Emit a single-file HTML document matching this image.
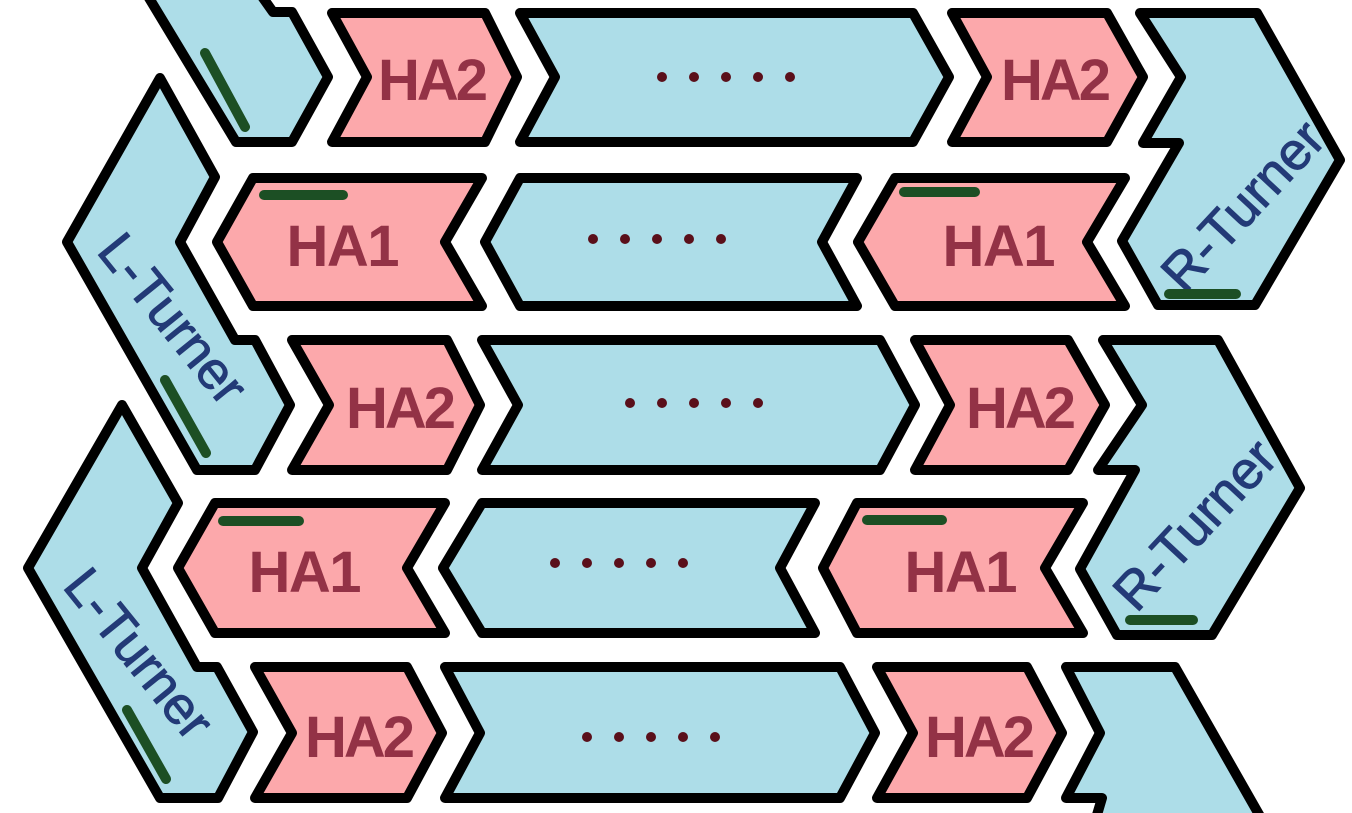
<!DOCTYPE html>
<html><head><meta charset="utf-8"><style>
html,body{margin:0;padding:0;background:#fff;width:1352px;height:813px;overflow:hidden}
svg{display:block}
.b{fill:#ADDDE8;stroke:#000;stroke-width:10;stroke-linejoin:round}
.p{fill:#FCA8AB;stroke:#000;stroke-width:10;stroke-linejoin:round}
.ha{font-family:"Liberation Sans",sans-serif;font-weight:bold;font-size:58px;fill:#933246;text-anchor:middle}
.tu{font-family:"Liberation Sans",sans-serif;font-size:53px;fill:#233A77;stroke:#233A77;stroke-width:1;text-anchor:middle}
.g{stroke:#1C4F24;stroke-width:10;stroke-linecap:round}
.d{fill:#5A0F1A}
</style></head><body>
<svg width="1352" height="813" viewBox="0 0 1352 813">
<!-- Row 1 -->
<polygon class="b" points="143,-12 256,-12 273,12 292,12 328,77 292,142 236,142"/>
<polygon class="p" points="332,13 485,13 517,77 485,142 332,142 367,77"/>
<text class="ha" x="433" y="100" textLength="110">HA2</text>
<polygon class="b" points="520,13 913,13 949,77 913,142 520,142 555,77"/>
<polygon class="p" points="952,13 1107,13 1143,77 1107,142 952,142 987,77"/>
<text class="ha" x="1056" y="100" textLength="110">HA2</text>
<polygon class="b" points="1140,13 1257,13 1340,160 1255,305 1158,305 1122,241 1179,143 1143,143 1181,77"/>
<text class="tu" transform="translate(1256,218) rotate(-47)">R-Turner</text>
<!-- Row 2 -->
<polygon class="b" points="160,78 215,177 180,242 235,340 255,340 290,405 255,470 197,470 67,242"/>
<text class="tu" transform="translate(159,330) rotate(51)">L-Turner</text>
<polygon class="p" points="253,178 482,178 445,242 482,306 253,306 217,242"/>
<text class="ha" x="343" y="266" textLength="113">HA1</text>
<polygon class="b" points="520,178 857,178 822,242 857,306 520,306 485,242"/>
<polygon class="p" points="895,178 1125,178 1087,242 1125,306 895,306 858,242"/>
<text class="ha" x="999" y="266" textLength="113">HA1</text>
<!-- Row 3 -->
<polygon class="p" points="292,340 447,340 480,405 447,470 292,470 329,405"/>
<text class="ha" x="401" y="428" textLength="110">HA2</text>
<polygon class="b" points="482,340 880,340 915,405 880,470 482,470 518,405"/>
<polygon class="p" points="915,340 1068,340 1105,405 1068,470 915,470 950,405"/>
<text class="ha" x="1021" y="428" textLength="110">HA2</text>
<polygon class="b" points="1103,340 1218,340 1300,488 1212,635 1117,635 1080,569 1135,470 1098,470 1142,405"/>
<text class="tu" transform="translate(1208,537) rotate(-47)">R-Turner</text>
<!-- Row 4 -->
<polygon class="b" points="122,405 178,503 142,568 197,667 217,667 253,732 218,798 160,798 28,568"/>
<text class="tu" transform="translate(125,665) rotate(51)">L-Turner</text>
<polygon class="p" points="215,503 445,503 407,568 445,633 215,633 178,568"/>
<text class="ha" x="305" y="592" textLength="113">HA1</text>
<polygon class="b" points="482,503 815,503 780,568 815,633 482,633 443,568"/>
<polygon class="p" points="857,503 1083,503 1045,568 1083,633 857,633 823,568"/>
<text class="ha" x="961" y="592" textLength="113">HA1</text>
<!-- Row 5 -->
<polygon class="p" points="255,667 407,667 442,733 407,798 255,798 292,733"/>
<text class="ha" x="360" y="757" textLength="110">HA2</text>
<polygon class="b" points="445,667 840,667 875,733 840,798 445,798 480,733"/>
<polygon class="p" points="877,667 1027,667 1062,733 1027,798 877,798 913,733"/>
<text class="ha" x="980" y="757" textLength="110">HA2</text>
<polygon class="b" points="1066,667 1175,667 1265,825 1094,825 1102,798 1066,798 1100,733"/>
<!-- dots -->
<g><circle class="d" cx="662" cy="77" r="5"/><circle class="d" cx="694" cy="77" r="5"/><circle class="d" cx="726" cy="77" r="5"/><circle class="d" cx="758" cy="77" r="5"/><circle class="d" cx="790" cy="77" r="5"/></g>
<g><circle class="d" cx="593" cy="239" r="5"/><circle class="d" cx="625" cy="239" r="5"/><circle class="d" cx="657" cy="239" r="5"/><circle class="d" cx="689" cy="239" r="5"/><circle class="d" cx="721" cy="239" r="5"/></g>
<g><circle class="d" cx="630" cy="403" r="5"/><circle class="d" cx="662" cy="403" r="5"/><circle class="d" cx="694" cy="403" r="5"/><circle class="d" cx="726" cy="403" r="5"/><circle class="d" cx="758" cy="403" r="5"/></g>
<g><circle class="d" cx="555" cy="563" r="5"/><circle class="d" cx="587" cy="563" r="5"/><circle class="d" cx="619" cy="563" r="5"/><circle class="d" cx="651" cy="563" r="5"/><circle class="d" cx="683" cy="563" r="5"/></g>
<g><circle class="d" cx="587" cy="737" r="5"/><circle class="d" cx="619" cy="737" r="5"/><circle class="d" cx="651" cy="737" r="5"/><circle class="d" cx="683" cy="737" r="5"/><circle class="d" cx="715" cy="737" r="5"/></g>
<!-- green markers -->
<g>
<line class="g" x1="205" y1="53" x2="245" y2="127"/>
<line class="g" x1="165" y1="380" x2="206" y2="453"/>
<line class="g" x1="127" y1="710" x2="166" y2="779"/>
<line class="g" x1="264" y1="195" x2="343" y2="195"/>
<line class="g" x1="904" y1="192" x2="975" y2="192"/>
<line class="g" x1="1169" y1="294" x2="1236" y2="294"/>
<line class="g" x1="223" y1="521" x2="299" y2="521"/>
<line class="g" x1="867" y1="520" x2="942" y2="520"/>
<line class="g" x1="1130" y1="620" x2="1193" y2="620"/>
</g>
</svg>
</body></html>
